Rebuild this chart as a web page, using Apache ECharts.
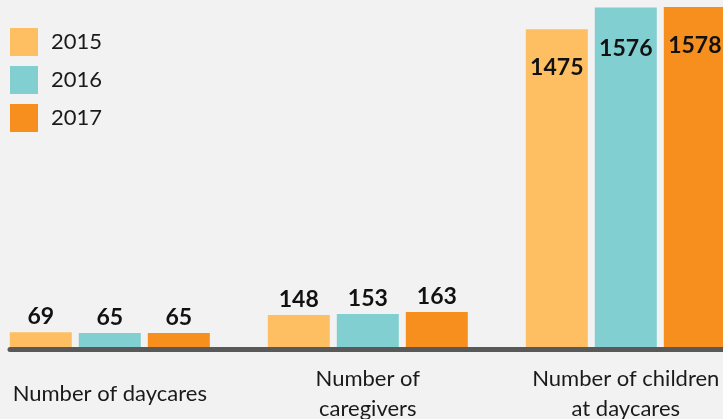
<!DOCTYPE html>
<html>
<head>
<meta charset="utf-8">
<script src="https://cdn.jsdelivr.net/npm/echarts@6/dist/echarts.min.js"></script>
<style>
html,body{margin:0;padding:0;background:#f2f2f2;}
#chart{width:723px;height:419px;}
</style>
</head>
<body>
<div id="chart"></div>
<script>
const categories = ['Number of daycares', 'Number of\ncaregivers', 'Number of children\nat daycares'];
const years = ['2015', '2016', '2017'];
const values2015 = [69, 148, 1475];
const values2016 = [65, 153, 1576];
const values2017 = [65, 163, 1578];
const colors = ['#fdbf62', '#81cfd0', '#f78f1e'];

const allValues = [values2015, values2016, values2017];
const FONT = 'Lato, "Open Sans", sans-serif';
const insideDistance = [27, 30, 27];

function buildData(vals, k) {
  return vals.map((v, i) => {
    if (i === 2) {
      return {
        value: v,
        label: { position: 'insideTop', distance: insideDistance[k] }
      };
    }
    return v;
  });
}

const series = years.map((y, k) => ({
  name: y,
  type: 'bar',
  xAxisIndex: 0,
  yAxisIndex: 0,
  barWidth: 62,
  barGap: '11.3%',
  itemStyle: { color: colors[k] },
  label: {
    show: true,
    position: 'top',
    distance: 4,
    color: '#111',
    fontFamily: FONT,
    fontWeight: 'bold',
    fontSize: 23
  },
  data: buildData(allValues[k], k)
}));

const chart = echarts.init(document.getElementById('chart'));
chart.setOption({
  backgroundColor: '#f2f2f2',
  animation: false,
  legend: {
    orient: 'vertical',
    left: 10,
    top: 28,
    padding: 0,
    itemWidth: 28,
    itemHeight: 28,
    itemGap: 10,
    icon: 'rect',
    data: years,
    textStyle: { fontFamily: FONT, fontSize: 22, color: '#1a1a1a', padding: [0, 0, 0, 8] }
  },
  grid: [
    { left: -19.2, width: 774, top: 7, bottom: 72, outerBoundsMode: 'none', containLabel: false },
    { left: 10, right: -20, top: 7, bottom: 69.5, outerBoundsMode: 'none', containLabel: false }
  ],
  xAxis: [
    {
      type: 'category',
      gridIndex: 0,
      data: categories,
      axisLine: { show: false },
      axisTick: { show: false },
      axisLabel: {
        interval: 0,
        margin: 47,
        verticalAlign: 'middle',
        lineHeight: 30,
        fontFamily: FONT,
        fontSize: 22,
        color: '#1a1a1a'
      }
    },
    {
      type: 'category',
      gridIndex: 1,
      data: [''],
      axisLine: { show: true, lineStyle: { color: '#595959', width: 5, cap: 'round' } },
      axisTick: { show: false },
      axisLabel: { show: false },
      z: 5
    }
  ],
  yAxis: [
    { type: 'value', gridIndex: 0, min: 0, max: 1578, show: false, splitLine: { show: false } },
    { type: 'value', gridIndex: 1, show: false, splitLine: { show: false } }
  ],
  series: series
});
</script>
</body>
</html>
